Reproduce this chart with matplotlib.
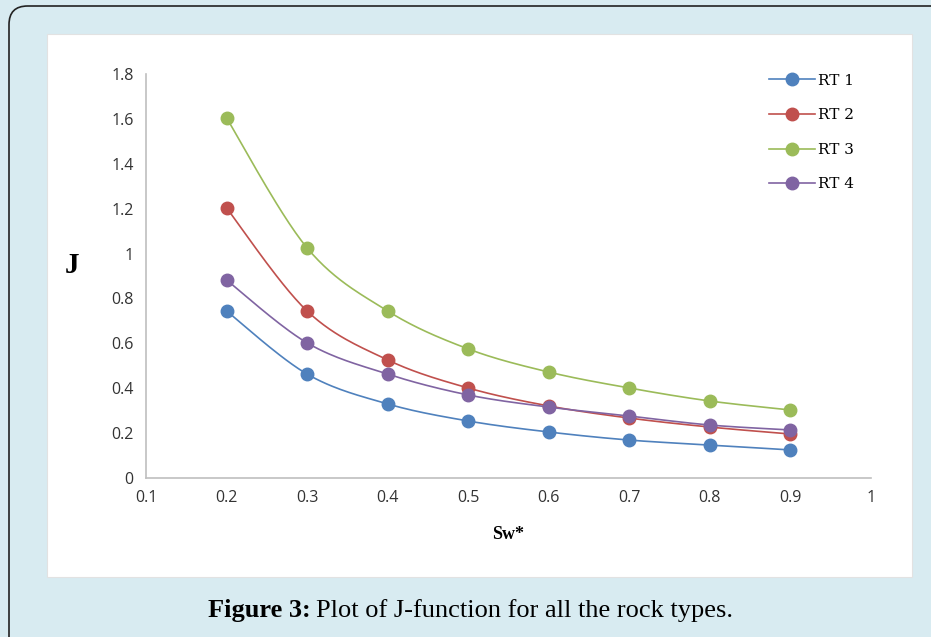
import matplotlib.pyplot as plt
import numpy as np
from matplotlib.patches import FancyBboxPatch, Rectangle

# normalised water saturation
sw = [0.2, 0.3, 0.4, 0.5, 0.6, 0.7, 0.8, 0.9]
# J-function values for each rock type
rt1 = [0.744, 0.463, 0.330, 0.254, 0.205, 0.169, 0.147, 0.125]
rt2 = [1.203, 0.744, 0.526, 0.401, 0.321, 0.267, 0.227, 0.196]
rt3 = [1.604, 1.025, 0.744, 0.575, 0.472, 0.401, 0.343, 0.303]
rt4 = [0.882, 0.602, 0.463, 0.370, 0.316, 0.276, 0.236, 0.214]
names = ['RT 1', 'RT 2', 'RT 3', 'RT 4']
colors = ['#4F81BD', '#C0504D', '#9BBB59', '#8064A2']
yticks = [0, 0.2, 0.4, 0.6, 0.8, 1, 1.2, 1.4, 1.6, 1.8]
xticks = [0.1, 0.2, 0.3, 0.4, 0.5, 0.6, 0.7, 0.8, 0.9, 1]


def smooth(x, y, n=30):
    # catmull-rom through the points, like excel's smoothed line
    x = np.asarray(x, float)
    y = np.asarray(y, float)
    px = np.concatenate([[x[0]], x, [x[-1]]])
    py = np.concatenate([[y[0]], y, [y[-1]]])
    xs, ys = [], []
    t = np.linspace(0, 1, n)
    for i in range(1, len(px) - 2):
        b0x, b3x = px[i], px[i + 1]
        b0y, b3y = py[i], py[i + 1]
        b1x = px[i] + (px[i + 1] - px[i - 1]) / 6
        b1y = py[i] + (py[i + 1] - py[i - 1]) / 6
        b2x = px[i + 1] - (px[i + 2] - px[i]) / 6
        b2y = py[i + 1] - (py[i + 2] - py[i]) / 6
        xs.append((1-t)**3*b0x + 3*(1-t)**2*t*b1x + 3*(1-t)*t**2*b2x + t**3*b3x)
        ys.append((1-t)**3*b0y + 3*(1-t)**2*t*b1y + 3*(1-t)*t**2*b2y + t**3*b3y)
    return np.concatenate(xs), np.concatenate(ys)


fig = plt.figure(figsize=(9.31, 6.37), dpi=100)
fig.patch.set_facecolor('white')

# page background, rounded frame and white chart panel
fig.patches.append(Rectangle((0, 0), 1, 1, transform=fig.transFigure,
                             facecolor='#d8ebf1', edgecolor='none', zorder=-3))
fig.patches.append(FancyBboxPatch((9/931, -20/637), 960/931, 651/637,
                                  boxstyle='round,pad=0,rounding_size=0.02',
                                  mutation_aspect=931/637,
                                  transform=fig.transFigure, facecolor='#d8ebf1',
                                  edgecolor='#222222', linewidth=1.2, zorder=-2))
fig.patches.append(Rectangle((47/931, (637-577)/637), 865/931, 543/637,
                             transform=fig.transFigure, facecolor='white',
                             edgecolor='#e2e2e2', linewidth=0.8, zorder=-1))

ax = fig.add_axes([146/931, (637-478)/637, 725/931, 404/637])
ax.set_facecolor('none')

for vals, name, c in zip([rt1, rt2, rt3, rt4], names, colors):
    xs, ys = smooth(sw, vals)
    ax.plot(xs, ys, color=c, linewidth=1.2)
    ax.plot(sw, vals, 'o', color=c, markersize=9)
    ax.plot([], [], '-o', color=c, markersize=9, linewidth=1.2, label=name)

ax.set_xlim(0.1, 1)
ax.set_ylim(0, 1.8)
ax.set_xticks(xticks)
ax.set_xticklabels(['0.1', '0.2', '0.3', '0.4', '0.5', '0.6', '0.7', '0.8', '0.9', '1'])
ax.set_yticks(yticks)
ax.set_yticklabels(['0', '0.2', '0.4', '0.6', '0.8', '1', '1.2', '1.4', '1.6', '1.8'])
ax.tick_params(length=0, labelsize=11.5, colors='#333333', pad=9)
for lab in ax.get_xticklabels() + ax.get_yticklabels():
    lab.set_family('Open Sans')
for s in ['top', 'right']:
    ax.spines[s].set_visible(False)
for s in ['left', 'bottom']:
    ax.spines[s].set_color('#bfbfbf')
    ax.spines[s].set_linewidth(1.2)

ax.set_xlabel('Sw*', fontsize=13, fontweight='bold', family='Liberation Serif', labelpad=14)
ax.set_ylabel('J', fontsize=21, fontweight='bold', family='Liberation Serif',
              rotation=0, va='center', ha='center')
ax.yaxis.set_label_coords(-0.102, 0.525)

leg = ax.legend(loc='upper left', bbox_to_anchor=(0.84, 1.035), frameon=False,
                prop={'family': 'DejaVu Serif', 'size': 11}, handlelength=3.0,
                labelspacing=1.35, handletextpad=0.25)

cap_y = (637-611)/637
t1 = fig.text(208/931, cap_y, 'Figure 3:', fontsize=19, fontweight='bold',
              family='Liberation Serif', va='center', ha='left')
fig.canvas.draw()
bb = t1.get_window_extent()
fig.text((bb.x1 + 5)/931, cap_y, 'Plot of J-function for all the rock types.', fontsize=19,
         family='Liberation Serif', va='center', ha='left')

fig.savefig('out.png', dpi=100, facecolor=fig.get_facecolor())
